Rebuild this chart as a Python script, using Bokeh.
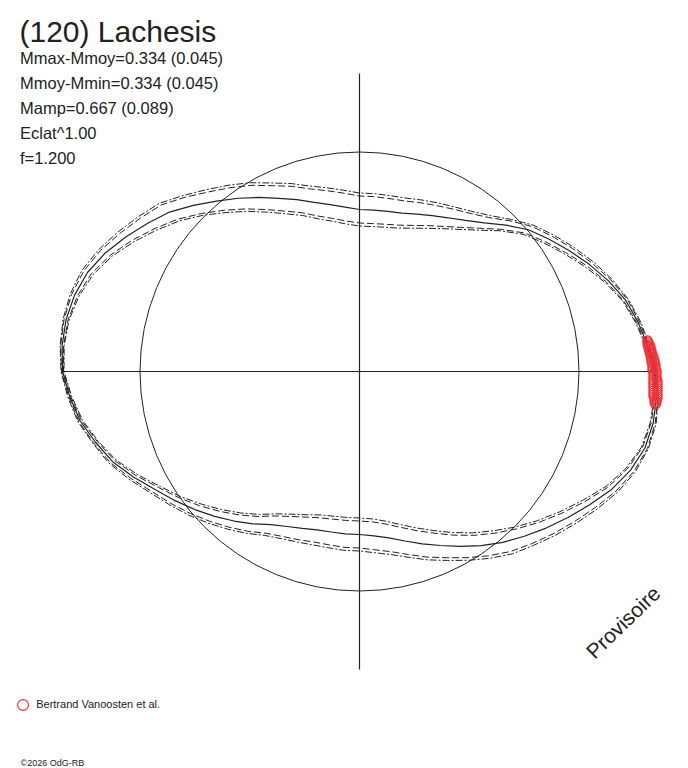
import numpy as np
from bokeh.plotting import figure
from bokeh.models import Range1d, Label, Legend, LegendItem
from bokeh.embed import file_html
from bokeh.resources import INLINE

# ---------------- data ----------------
object_name = "(120) Lachesis"
info_lines = ["Mmax-Mmoy=0.334 (0.045)", "Mmoy-Mmin=0.334 (0.045)",
              "Mamp=0.667 (0.089)", "Eclat^1.00", "f=1.200"]
source_label = "Bertrand Vanoosten et al."
stamp = "Provisoire"
copyright_text = "\u00a92026 OdG-RB"

# polar angle (deg) and radius of the mean curve
angles = [0, 5, 10, 15, 20, 25, 30, 35, 40, 45, 50, 55, 60, 65, 70, 75, 80, 85,
          90, 95, 100, 105, 110, 115, 120, 125, 130, 135, 140, 145, 150, 155, 160, 165,
          170, 175, 180, 185, 190, 195, 200, 205, 210, 215, 220, 225, 230, 235, 240, 245,
          250, 255, 260, 265, 270, 275, 280, 285, 290, 295, 300, 305, 310, 315, 320, 325,
          330, 335, 340, 345, 350, 355]
r_mean = [296, 289.5, 283, 275.5, 265, 253.5, 242, 231, 220.5, 207, 194, 184.5, 177.5,
          172, 167.5, 164, 162.5, 162, 162, 165, 169.5, 175, 183, 191, 201, 211.5, 222.5,
          235, 248, 258.5, 269.5, 280.5, 289.5, 295, 298, 298.5,
          297, 290.8, 283.7, 273.3, 263, 249.5, 236, 225.2, 214.8, 204.8, 195.2, 186,
          176.8, 171, 167, 164, 163, 163, 163, 165, 169, 175.5, 183.5, 192, 202, 212.5,
          223, 233, 243.6, 254.5, 266.2, 278.5, 288.5, 295.5, 298.2, 298]
# spreads of the two envelope curves (dashed / dash-dot)
err_dash = [1, 1, 1.5, 2, 2.5, 3, 4, 4.5, 5, 6, 7, 8.5, 10, 11, 12, 12.5, 13, 13.5,
            13.5, 14, 14, 14, 14, 14, 14, 13, 12, 11.5, 11, 9, 7, 5.5, 4, 3, 2, 1.5,
            1, 1, 1.5, 2, 2.5, 3, 4, 5, 6, 7, 8, 9, 10, 11, 12, 12.5, 13, 13.5,
            13.5, 14, 14, 14, 14, 13.5, 13, 12.5, 12, 10.5, 9, 7.5, 6, 4.5, 3.5, 2.5, 2, 1.5]
err_dashdot = [1.5, 2, 2.5, 3, 4, 5, 6, 6.5, 7, 8, 9.5, 11, 12.5, 14, 15, 15.5, 16, 16.5,
               16.5, 17, 17, 17, 17, 17, 17, 16, 15, 14, 13.5, 11.5, 9.5, 7.5, 6, 4.5, 3, 2,
               1.5, 2, 2.5, 3, 4, 5, 6, 7, 8.5, 9.5, 10.5, 11.5, 12.5, 13.5, 14.5, 15.5, 16, 16.5,
               16.5, 17, 17, 17, 17, 16.5, 16, 15.5, 15, 13, 11.5, 10, 8.5, 6.5, 5, 3.5, 3, 2]
ref_circle_r = 219.5

# observations
obs_x = [288, 288, 288, 289, 288, 290, 289, 291, 289, 291, 290, 292, 290, 292, 291, 293,
         291, 294, 292, 294, 292, 295, 292, 295, 293, 296, 293, 296, 293, 296, 293, 297,
         294, 297, 294, 297, 294, 297, 294, 297, 294, 298, 294, 298, 294, 298, 294, 298,
         294, 298, 294, 298, 294, 298, 294, 298, 294, 298, 295, 298, 295, 297, 295, 297,
         296, 296]
obs_y = [31, 31, 29, 29, 27, 27, 25, 25, 23, 23, 21, 21, 19, 19, 17, 17, 15, 15, 13, 13,
         11, 11, 9, 9, 7, 7, 5, 5, 3, 3, 1, 1, -1, -1, -3, -3, -5, -5, -7, -7, -9, -9,
         -11, -11, -13, -13, -15, -15, -17, -17, -19, -19, -21, -21, -23, -23, -25, -25,
         -27, -27, -29, -29, -31, -31, -33, -33]

axis_half = 298

# ---------------- plot ----------------
INK = "#222222"
RED = "#ee3338"
FONT = "Liberation Sans"
W, H = 688, 768

p = figure(width=W, height=H, x_range=Range1d(-359, W - 359), y_range=Range1d(371 - H, 371),
           toolbar_location=None, output_backend="svg", min_border=0,
           x_axis_location=None, y_axis_location=None)
p.outline_line_color = None
p.xgrid.visible = False
p.ygrid.visible = False
p.background_fill_color = "white"

th = np.deg2rad(np.array(angles + [angles[0]], dtype=float))
rm = np.array(r_mean + [r_mean[0]], dtype=float)
ea = np.array(err_dash + [err_dash[0]], dtype=float)
eb = np.array(err_dashdot + [err_dashdot[0]], dtype=float)

def curve(r, **kw):
    p.line(r * np.cos(th), r * np.sin(th), line_color=INK, **kw)

# axes cross
p.line([-axis_half, axis_half], [0, 0], line_color=INK, line_width=1.2)
p.line([0, 0], [-axis_half, axis_half], line_color=INK, line_width=1.2)
# reference circle
p.circle(x=[0], y=[0], radius=ref_circle_r, fill_color=None, line_color=INK, line_width=1)

curve(rm + ea, line_width=1, line_dash="7 3")
curve(rm - ea, line_width=1, line_dash="7 3")
curve(rm + eb, line_width=1, line_dash="7 2 2 2")
curve(rm - eb, line_width=1, line_dash="7 2 2 2")
curve(rm, line_width=1.2)

pts = p.scatter(obs_x, obs_y, marker="circle", size=9, line_color=RED, fill_color=None,
                line_width=1.2)

GB = 27
legend = Legend(items=[LegendItem(label=source_label, renderers=[pts])],
                location=(22.7 - GB / 2, H - 704.3 - GB / 2), padding=0, margin=0, spacing=0,
                glyph_width=GB, glyph_height=GB, label_height=GB, label_standoff=0,
                label_text_font=FONT, label_text_font_size="11px", label_text_color=INK,
                background_fill_alpha=0, border_line_color=None)
p.add_layout(legend, "center")

p.add_layout(Label(x=19, y=H - 31, x_units="screen", y_units="screen", text=object_name,
                   text_font=FONT, text_font_size="30px", text_color=INK,
                   text_baseline="alphabetic"))
for i, line in enumerate(info_lines):
    p.add_layout(Label(x=19.5, y=H - (57 + 25 * i), x_units="screen", y_units="screen",
                       text=line, text_font=FONT, text_font_size="16.5px", text_color=INK,
                       text_baseline="alphabetic"))
p.add_layout(Label(x=589, y=H - 654, x_units="screen", y_units="screen", text=stamp,
                   angle=44, angle_units="deg", text_font=FONT, text_font_size="21px",
                   text_color=INK, text_baseline="alphabetic"))
p.add_layout(Label(x=20, y=6, x_units="screen", y_units="screen", text=copyright_text,
                   text_font=FONT, text_font_size="9px", text_color=INK,
                   text_baseline="alphabetic"))

open("out.html", "w").write(file_html(p, INLINE))
